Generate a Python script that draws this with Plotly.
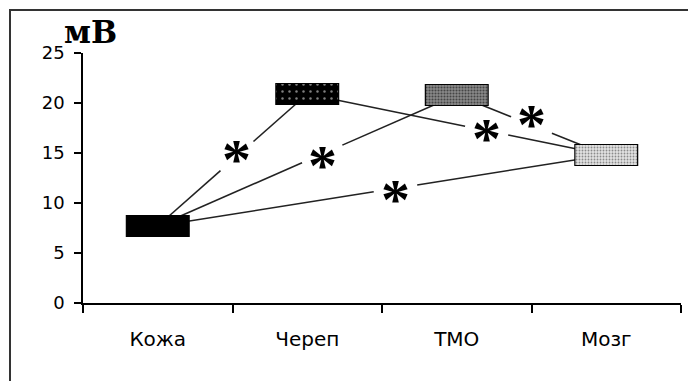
import plotly.graph_objects as go

# Measured potentials per tissue layer (mV)
categories = ["Кожа", "Череп", "ТМО", "Мозг"]
potential_mv = [7.7, 20.9, 20.8, 14.8]

# Significantly different pairs (indices into categories), each marked with "*"
pair_from = [0, 0, 0, 1, 2]
pair_to = [1, 2, 3, 3, 3]

y_ticks = [0, 5, 10, 15, 20, 25]
y_unit = "мВ"

# ---- layout geometry / style ----
W, H = 688, 381
ML, MR, MT, MB = 83, 7, 53, 78
X_RANGE = (-0.5, 3.5)
Y_RANGE = (0, 25)
px_per_x = (W - ML - MR) / (X_RANGE[1] - X_RANGE[0])
px_per_y = (H - MT - MB) / (Y_RANGE[1] - Y_RANGE[0])

STAR_T = [0.53, 0.55, 0.53, 0.6, 0.5]   # where along each link the star sits
STAR_LIFT = [6, -3, -2, 1, 10]          # extra upward shift of each star, px
STAR_GAP_PX = 22                        # half-length of the break in the link
BOX_W = 0.42                            # box width in category units
BOX_H = 2.1                             # box height in mV

LINE_COLOR = "#222222"
TICK_FONT = dict(family="DejaVu Sans", size=18, color="black")
CAT_FONT = dict(family="DejaVu Sans", size=20, color="black")

fig = go.Figure()

# Links between significantly different layers, broken around the star
for k, (a, b) in enumerate(zip(pair_from, pair_to)):
    xa, xb = a, b
    ya, yb = potential_mv[a], potential_mv[b]
    length_px = ((xb - xa) * px_per_x) ** 2 + ((yb - ya) * px_per_y) ** 2
    length_px = length_px ** 0.5
    g = STAR_GAP_PX / length_px
    t = STAR_T[k]
    t1, t2 = t - g, t + g
    xs = [xa, xa + (xb - xa) * t1, None, xa + (xb - xa) * t2, xb]
    ys = [ya, ya + (yb - ya) * t1, None, ya + (yb - ya) * t2, yb]
    fig.add_trace(go.Scatter(
        x=xs, y=ys, mode="lines", line=dict(color=LINE_COLOR, width=1.6),
        showlegend=False, hoverinfo="skip", xaxis="x", yaxis="y"))
    fig.add_annotation(
        x=xa + (xb - xa) * t, y=ya + (yb - ya) * t, xref="x", yref="y",
        text="<b>*</b>", showarrow=False, yshift=-9 + STAR_LIFT[k],
        font=dict(family="Liberation Serif", size=58, color="black"))

# Patterned boxes marking each layer's value (drawn on an overlay so they sit above links)
box_styles = [
    dict(color="black", pattern=dict(shape="")),
    dict(color="black", pattern=dict(shape=".", fgcolor="white", bgcolor="black",
                                     size=7, solidity=0.1)),
    dict(color="white", pattern=dict(shape=".", fgcolor="black", bgcolor="#8a8a8a",
                                     size=3, solidity=0.4)),
    dict(color="white", pattern=dict(shape=".", fgcolor="#333333", bgcolor="#e2e2e2",
                                     size=3, solidity=0.3)),
]
for i, v in enumerate(potential_mv):
    st = box_styles[i]
    fig.add_trace(go.Bar(
        x=[i], y=[BOX_H], base=[v - BOX_H / 2], width=BOX_W,
        marker=dict(color=st["color"], pattern=st["pattern"],
                    line=dict(color="black", width=1.2)),
        showlegend=False, hoverinfo="skip", xaxis="x2", yaxis="y2"))

fig.update_layout(
    width=W, height=H,
    margin=dict(l=ML, r=MR, t=MT, b=MB, pad=0),
    paper_bgcolor="white", plot_bgcolor="white",
    barmode="overlay",
    xaxis=dict(
        range=list(X_RANGE), tickmode="array",
        tickvals=list(range(len(categories))), ticktext=categories,
        ticks="", showgrid=False, zeroline=False,
        showline=True, linecolor="black", linewidth=1.5,
        tickfont=CAT_FONT, ticklabelstandoff=17,
        minor=dict(ticks="outside", tick0=0.5, dtick=1, ticklen=8,
                   tickcolor="black", tickwidth=1.5, showgrid=False),
    ),
    yaxis=dict(
        range=list(Y_RANGE), tickmode="array", tickvals=y_ticks,
        ticks="outside", ticklen=7, tickwidth=1.5, tickcolor="black",
        showgrid=False, zeroline=False,
        showline=True, linecolor="black", linewidth=1.5,
        tickfont=TICK_FONT, ticklabelstandoff=6,
    ),
    xaxis2=dict(overlaying="x", matches="x", visible=False),
    yaxis2=dict(overlaying="y", matches="y", visible=False),
)

# Unit label above the value axis
fig.add_annotation(
    xref="paper", yref="paper", x=0, y=1, xanchor="left", yanchor="middle",
    xshift=-21, yshift=21, text="<b>" + y_unit + "</b>", showarrow=False,
    font=dict(family="DejaVu Serif", size=31, color="black"))

# Outer frame (runs off the right and bottom edges)
fig.add_shape(
    type="rect", xref="paper", yref="paper",
    xsizemode="pixel", ysizemode="pixel", xanchor=0, yanchor=1,
    x0=10 - ML, x1=W + 20 - ML, y0=MT - 10, y1=-(H + 20 - MT),
    line=dict(color="#333333", width=2), fillcolor="rgba(0,0,0,0)", layer="above")

fig.write_html("out.html")
